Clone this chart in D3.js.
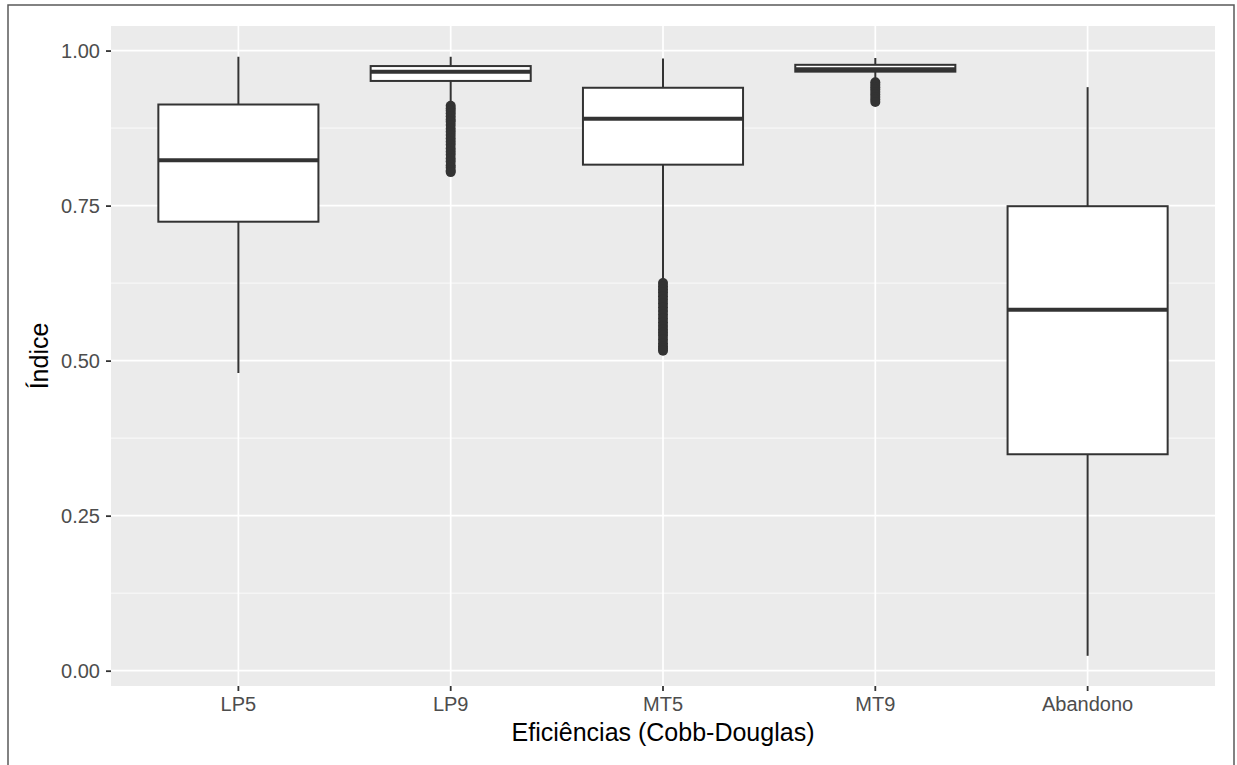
<!DOCTYPE html>
<html>
<head>
<meta charset="utf-8">
<script src="https://cdn.jsdelivr.net/npm/d3@7"></script>
<style>
  body { margin: 0; background: #fff; }
  text { font-family: "Liberation Sans", Arial, sans-serif; }
</style>
</head>
<body>
<svg id="chart" width="1237" height="765"></svg>
<script>
// categories and box statistics
var categories = ["LP5", "LP9", "MT5", "MT9", "Abandono"];
var whiskerHigh = [0.990, 0.990, 0.987, 0.988, 0.941];
var q3 = [0.913, 0.975, 0.940, 0.977, 0.749];
var median = [0.823, 0.966, 0.890, 0.970, 0.582];
var q1 = [0.724, 0.951, 0.816, 0.966, 0.349];
var whiskerLow = [0.480, 0.917, 0.630, 0.955, 0.024];

// outliers per category
var outliersLP5 = [];
var outliersLP9 = [0.911, 0.907, 0.903, 0.899, 0.894, 0.889, 0.885, 0.880, 0.874, 0.869, 0.864,
  0.858, 0.853, 0.848, 0.842, 0.837, 0.832, 0.826, 0.821, 0.815, 0.811, 0.806, 0.804];
var outliersMT5 = [0.625, 0.620, 0.615, 0.610, 0.604, 0.598, 0.592, 0.586, 0.580, 0.574, 0.568,
  0.562, 0.556, 0.550, 0.545, 0.540, 0.534, 0.528, 0.523, 0.519, 0.516];
var outliersMT9 = [0.949, 0.945, 0.941, 0.937, 0.933, 0.929, 0.925, 0.921, 0.917];
var outliersAbandono = [];

var yTicks = [0, 0.25, 0.5, 0.75, 1];
var yMinor = [0.125, 0.375, 0.625, 0.875];

var xTitle = "Eficiências (Cobb-Douglas)";
var yTitle = "Índice";

var svg = d3.select("#chart");
var margin = {top: 26, right: 22, bottom: 79, left: 111},
    width = +svg.attr("width") - margin.left - margin.right,
    height = +svg.attr("height") - margin.top - margin.bottom;

// outer frame of the figure
svg.append("path")
    .attr("d", "M8,770 L8,5 L1234,5 L1234,770")
    .attr("fill", "none")
    .attr("stroke", "#5a5a5a")
    .attr("stroke-width", 1.5);

var g = svg.append("g").attr("transform", "translate(" + margin.left + "," + margin.top + ")");

var x = d3.scaleBand()
    .domain(categories)
    .range([0, width])
    .paddingOuter(0.1)
    .paddingInner(0);

var y = d3.scaleLinear()
    .domain([-0.0247, 1.0396])
    .range([height, 0]);

var boxWidth = x.bandwidth() * 0.754;
function cx(i) { return x(categories[i]) + x.bandwidth() / 2; }

// panel background
g.append("rect")
    .attr("width", width)
    .attr("height", height)
    .attr("fill", "#ebebeb");

// minor grid
g.selectAll(".minor")
    .data(yMinor)
    .enter().append("line")
    .attr("x1", 0).attr("x2", width)
    .attr("y1", function(d) { return y(d); })
    .attr("y2", function(d) { return y(d); })
    .attr("stroke", "#fff")
    .attr("stroke-width", 0.8);

// major grid
g.selectAll(".major")
    .data(yTicks)
    .enter().append("line")
    .attr("x1", 0).attr("x2", width)
    .attr("y1", function(d) { return y(d); })
    .attr("y2", function(d) { return y(d); })
    .attr("stroke", "#fff")
    .attr("stroke-width", 1.7);

g.selectAll(".vgrid")
    .data(categories)
    .enter().append("line")
    .attr("x1", function(d, i) { return cx(i); })
    .attr("x2", function(d, i) { return cx(i); })
    .attr("y1", 0).attr("y2", height)
    .attr("stroke", "#fff")
    .attr("stroke-width", 1.7);

// y axis
var yAxis = g.append("g")
    .call(d3.axisLeft(y).tickValues(yTicks).tickFormat(d3.format(".2f")).tickSize(5).tickPadding(6));
yAxis.select(".domain").remove();
yAxis.selectAll(".tick line").attr("stroke", "#333").attr("stroke-width", 1.8);
yAxis.selectAll(".tick text")
    .attr("fill", "#4d4d4d")
    .style("font-size", "20px")
    .attr("dy", "0.35em");

// x axis
var xAxis = g.append("g")
    .attr("transform", "translate(0," + height + ")")
    .call(d3.axisBottom(x).tickSize(5).tickPadding(6));
xAxis.select(".domain").remove();
xAxis.selectAll(".tick line").attr("stroke", "#333").attr("stroke-width", 1.8);
xAxis.selectAll(".tick text")
    .attr("fill", "#4d4d4d")
    .style("font-size", "20px")
    .attr("dy", "0.72em");

// whiskers
var boxes = g.selectAll(".box")
    .data(categories)
    .enter().append("g")
    .attr("class", "box");

boxes.append("line")
    .attr("x1", function(d, i) { return cx(i); })
    .attr("x2", function(d, i) { return cx(i); })
    .attr("y1", function(d, i) { return y(whiskerHigh[i]); })
    .attr("y2", function(d, i) { return y(q3[i]); })
    .attr("stroke", "#333")
    .attr("stroke-width", 2);

boxes.append("line")
    .attr("x1", function(d, i) { return cx(i); })
    .attr("x2", function(d, i) { return cx(i); })
    .attr("y1", function(d, i) { return y(q1[i]); })
    .attr("y2", function(d, i) { return y(whiskerLow[i]); })
    .attr("stroke", "#333")
    .attr("stroke-width", 2);

// boxes
boxes.append("rect")
    .attr("x", function(d, i) { return cx(i) - boxWidth / 2; })
    .attr("y", function(d, i) { return y(q3[i]); })
    .attr("width", boxWidth)
    .attr("height", function(d, i) { return y(q1[i]) - y(q3[i]); })
    .attr("fill", "#fff")
    .attr("stroke", "#333")
    .attr("stroke-width", 2);

// median line
boxes.append("line")
    .attr("x1", function(d, i) { return cx(i) - boxWidth / 2; })
    .attr("x2", function(d, i) { return cx(i) + boxWidth / 2; })
    .attr("y1", function(d, i) { return y(median[i]); })
    .attr("y2", function(d, i) { return y(median[i]); })
    .attr("stroke", "#333")
    .attr("stroke-width", 4);

// outliers
var outliers = [outliersLP5, outliersLP9, outliersMT5, outliersMT9, outliersAbandono];
outliers.forEach(function(list, i) {
    g.selectAll(".out" + i)
        .data(list)
        .enter().append("circle")
        .attr("cx", cx(i))
        .attr("cy", function(d) { return y(d); })
        .attr("r", 5)
        .attr("fill", "#333");
});

// axis titles
svg.append("text")
    .attr("x", margin.left + width / 2)
    .attr("y", 741)
    .attr("text-anchor", "middle")
    .style("font-size", "25px")
    .attr("fill", "#000")
    .text(xTitle);

svg.append("text")
    .attr("transform", "translate(48," + (margin.top + height / 2) + ") rotate(-90)")
    .attr("text-anchor", "middle")
    .style("font-size", "25px")
    .attr("fill", "#000")
    .text(yTitle);
</script>
</body>
</html>
